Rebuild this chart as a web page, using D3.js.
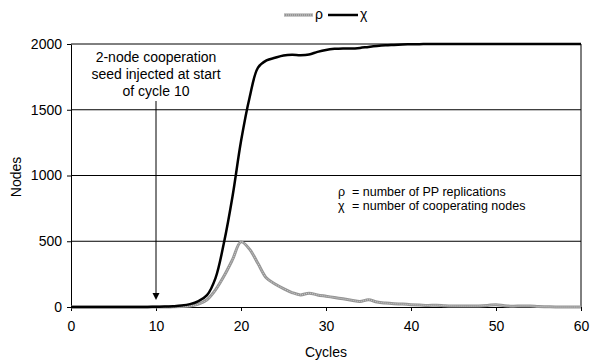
<!DOCTYPE html>
<html>
<head>
<meta charset="utf-8">
<script src="https://cdn.jsdelivr.net/npm/d3@7"></script>
<style>
  body { margin: 0; background: #fff; }
  text { font-family: "Liberation Sans", Arial, sans-serif; fill: #000; }
</style>
</head>
<body>
<script>
// cycle numbers along the x axis
const cycles = d3.range(0, 61);

// rho = number of PP replications
const rho = [
  0, 0, 0, 0, 0, 0, 0, 0, 0, 0,
  0, 0, 1, 3, 8, 22, 55, 130, 235, 360,
  495, 440, 330, 220, 175, 140, 110, 92, 105, 92,
  82, 72, 62, 52, 42, 55, 38, 30, 25, 22,
  18, 15, 12, 14, 10, 8, 7, 7, 8, 12,
  18, 10, 6, 8, 8, 4, 2, 0, 0, 0,
  0
];

// chi = number of cooperating nodes
const chi = [
  0, 0, 0, 0, 0, 0, 0, 0, 0, 0,
  2, 3, 6, 11, 22, 45, 90, 220, 490, 840,
  1260, 1590, 1820, 1875, 1895, 1912, 1918, 1915, 1920, 1940,
  1955, 1963, 1966, 1965, 1970, 1978, 1985, 1990, 1993, 1996,
  1998, 1999, 2000, 2000, 2000, 2000, 2000, 2000, 2000, 2000,
  2000, 2000, 2000, 2000, 2000, 2000, 2000, 2000, 2000, 2000,
  2000
];

const xTicks = [0, 10, 20, 30, 40, 50, 60];
const yTicks = [0, 500, 1000, 1500, 2000];

const width = 591;
const height = 360;
const margin = { top: 44, right: 10, bottom: 53, left: 71 };

const svg = d3.select('body')
  .append('svg')
  .attr('width', width)
  .attr('height', height);

const x = d3.scaleLinear()
  .domain([0, 60])
  .range([margin.left, width - margin.right]);

const y = d3.scaleLinear()
  .domain([0, 2000])
  .range([height - margin.bottom, margin.top]);

// horizontal grid
svg.append('g')
  .selectAll('line')
  .data(yTicks.filter(d => d > 0))
  .join('line')
  .attr('x1', x(0))
  .attr('x2', x(60))
  .attr('y1', d => y(d))
  .attr('y2', d => y(d))
  .attr('stroke', '#000')
  .attr('stroke-width', 1);

// right frame edge
svg.append('line')
  .attr('x1', x(60))
  .attr('x2', x(60))
  .attr('y1', y(0))
  .attr('y2', y(2000))
  .attr('stroke', '#000');

const xAxis = svg.append('g')
  .attr('transform', `translate(0,${y(0)})`)
  .call(d3.axisBottom(x).tickValues(xTicks).tickSize(4).tickSizeOuter(0).tickPadding(10));

const yAxis = svg.append('g')
  .attr('transform', `translate(${x(0)},0)`)
  .call(d3.axisLeft(y).tickValues(yTicks).tickFormat(d3.format('d')).tickSize(4).tickSizeOuter(0).tickPadding(5));

[xAxis, yAxis].forEach(g => {
  g.selectAll('text')
    .style('font-size', '14px')
    .style('font-family', '"Liberation Sans", Arial, sans-serif')
    .attr('fill', '#000');
  g.selectAll('line, path').attr('stroke', '#000');
});

const line = values => d3.line()
  .x((d, i) => x(cycles[i]))
  .y(d => y(d))
  .curve(d3.curveCatmullRom.alpha(0.5))(values);

// rho: grey textured line
svg.append('path')
  .attr('d', line(rho))
  .attr('fill', 'none')
  .attr('stroke', '#959595')
  .attr('stroke-width', 3);
svg.append('path')
  .attr('d', line(rho))
  .attr('fill', 'none')
  .attr('stroke', '#d0d0d0')
  .attr('stroke-width', 1)
  .attr('stroke-dasharray', '1,1');

// chi: thick black line
svg.append('path')
  .attr('d', line(chi))
  .attr('fill', 'none')
  .attr('stroke', '#000')
  .attr('stroke-width', 2.5)
  .attr('stroke-linejoin', 'round');

// legend
const legend = svg.append('g');
legend.append('line')
  .attr('x1', 284).attr('x2', 313).attr('y1', 15).attr('y2', 15)
  .attr('stroke', '#959595').attr('stroke-width', 3);
legend.append('line')
  .attr('x1', 284).attr('x2', 313).attr('y1', 15).attr('y2', 15)
  .attr('stroke', '#d0d0d0').attr('stroke-width', 1).attr('stroke-dasharray', '1,1');
legend.append('text')
  .attr('x', 315).attr('y', 19).style('font-size', '14px').text('ρ');
legend.append('line')
  .attr('x1', 328).attr('x2', 358).attr('y1', 15).attr('y2', 15)
  .attr('stroke', '#000').attr('stroke-width', 2.5);
legend.append('text')
  .attr('x', 360).attr('y', 19).style('font-size', '14px').text('χ');

// axis titles
svg.append('text')
  .attr('transform', 'translate(21,177) rotate(-90)')
  .attr('text-anchor', 'middle')
  .style('font-size', '14px')
  .text('Nodes');

svg.append('text')
  .attr('x', 326)
  .attr('y', 357)
  .attr('text-anchor', 'middle')
  .style('font-size', '14px')
  .text('Cycles');

// seed annotation with arrow
const note = ['2-node cooperation', 'seed injected at start', 'of cycle 10'];
svg.append('g')
  .selectAll('text')
  .data(note)
  .join('text')
  .attr('x', x(10))
  .attr('y', (d, i) => 62 + i * 17)
  .attr('text-anchor', 'middle')
  .style('font-size', '14px')
  .text(d => d);

svg.append('line')
  .attr('x1', x(10)).attr('x2', x(10))
  .attr('y1', 101).attr('y2', 294)
  .attr('stroke', '#000').attr('stroke-width', 1);
svg.append('path')
  .attr('d', `M${x(10) - 3.5},293 L${x(10) + 3.5},293 L${x(10)},300 Z`)
  .attr('fill', '#000');

// symbol key
const key = [['ρ', '= number of PP replications'], ['χ', '= number of cooperating nodes']];
const keyG = svg.append('g');
key.forEach((k, i) => {
  keyG.append('text')
    .attr('x', 338).attr('y', 196 + i * 14)
    .style('font-size', '12.5px')
    .text(k[0]);
  keyG.append('text')
    .attr('x', 352).attr('y', 196 + i * 14)
    .style('font-size', '12.5px')
    .text(k[1]);
});
</script>
</body>
</html>
